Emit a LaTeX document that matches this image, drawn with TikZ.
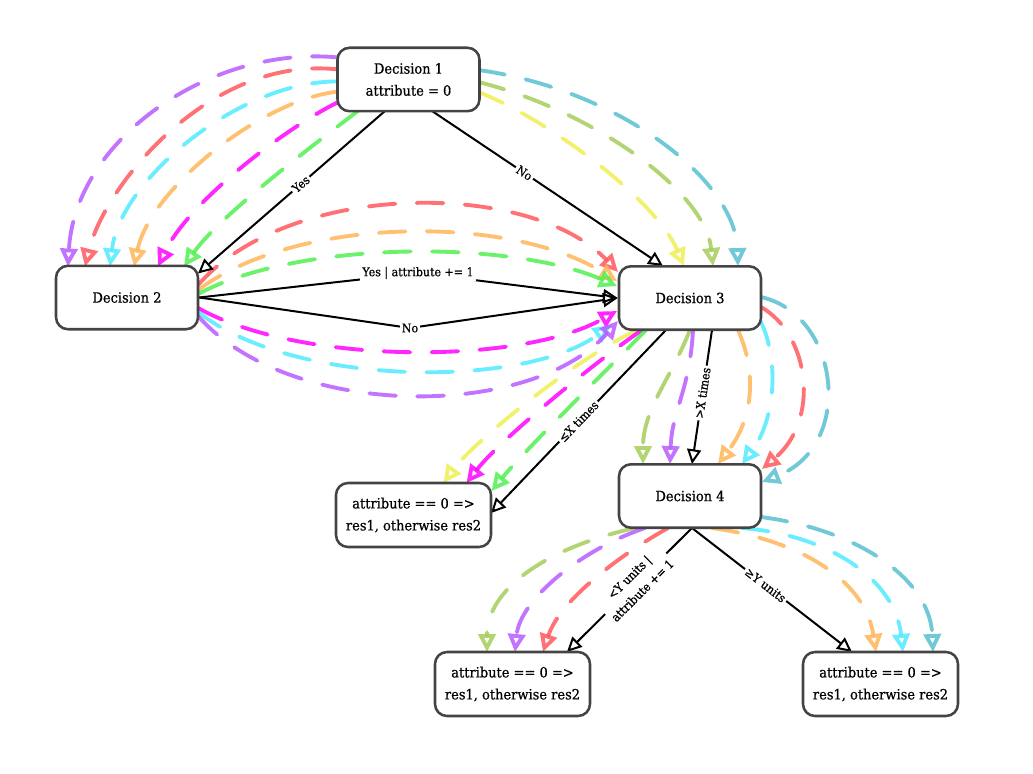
\documentclass[tikz,border=0pt]{standalone}
\usepackage{fontspec}
\setmainfont{DejaVu Serif}[FakeStretch=0.92,FakeBold=0.6]
\usetikzlibrary{arrows.meta}
\definecolor{boxgray}{HTML}{444444}
\definecolor{cPur}{RGB}{183,92,255}
\definecolor{cRed}{RGB}{255,88,92}
\definecolor{cCya}{RGB}{80,235,255}
\definecolor{cOra}{RGB}{255,182,88}
\definecolor{cMag}{RGB}{255,0,255}
\definecolor{cGre}{RGB}{80,240,80}
\definecolor{cYel}{RGB}{240,238,85}
\definecolor{cOli}{RGB}{165,205,90}
\definecolor{cTea}{RGB}{88,192,208}
\pgfdeclarelayer{edges}
\pgfsetlayers{edges,main}
\begin{document}
\begin{tikzpicture}[x=0.75pt,y=-0.75pt,
  box/.style={draw=boxgray, line width=1.9pt, rounded corners=9pt, fill=white,
    minimum width=106.5pt, minimum height=47.6pt, inner sep=0pt, align=center,
    font=\fontsize{10.6}{16.5}\selectfont},
  rbox/.style={box, minimum width=116.25pt, minimum height=48pt},
  flow/.style={line width=1.5pt, draw=black, -{Triangle[open,length=11pt,width=10.5pt]}},
  lbl/.style={fill=white, inner sep=1.5pt, font=\fontsize{9}{14}\selectfont, align=center},
  alt/.style={line width=2.9pt, dash pattern=on 20pt off 16pt, line cap=round,
    draw opacity=0.85, -{Triangle[open,length=13.5pt,width=13pt]}}]
\useasboundingbox (0,0) rectangle (1033,774);
\node[box] (d1) at (408.5,79.5) {Decision 1\\attribute = 0};
\node[box] (d2) at (127,297.5) {Decision 2};
\node[box] (d3) at (690,298) {Decision 3};
\node[box] (d4) at (690,496) {Decision 4};
\node[rbox] (r1) at (413.5,515) {attribute == 0 =>\\res1, otherwise res2};
\node[rbox] (r2) at (512.5,684) {attribute == 0 =>\\res1, otherwise res2};
\node[rbox] (r3) at (880.5,684) {attribute == 0 =>\\res1, otherwise res2};
\coordinate (k1) at (418,273);
\coordinate (k2) at (410,328);
\begin{pgfonlayer}{edges}
% D1 -> D2
\draw[alt,draw=cPur] ([shift={(-70,-22)}]d1.center) .. controls (210,45) and (75,140) .. ([shift={(-59,-31)}]d2.center);
\draw[alt,draw=cRed] ([shift={(-70,-10)}]d1.center) .. controls (210,55) and (105,185) .. ([shift={(-42,-31)}]d2.center);
\draw[alt,draw=cCya] ([shift={(-70,2)}]d1.center) .. controls (240,80) and (120,180) .. ([shift={(-17,-31)}]d2.center);
\draw[alt,draw=cOra] ([shift={(-70,12)}]d1.center) .. controls (260,100) and (150,190) .. ([shift={(7,-31)}]d2.center);
\draw[alt,draw=cMag] ([shift={(-69,22)}]d1.center) .. controls (290,125) and (190,200) .. ([shift={(31,-31)}]d2.center);
\draw[alt,draw=cGre] ([shift={(-50,31)}]d1.center) .. controls (320,140) and (220,215) .. ([shift={(57,-31)}]d2.center);
% D1 -> D3
\draw[alt,draw=cTea] ([shift={(70,-9.5)}]d1.center) .. controls (620,90) and (735,180) .. ([shift={(48,-32)}]d3.center);
\draw[alt,draw=cOli] ([shift={(70,2.5)}]d1.center) .. controls (590,110) and (705,190) .. ([shift={(23,-32)}]d3.center);
\draw[alt,draw=cYel] ([shift={(70,12.5)}]d1.center) .. controls (545,118) and (655,198) .. ([shift={(-6,-32)}]d3.center);
% D2 -> D3 upper
\draw[alt,draw=cRed] ([shift={(71,-12.5)}]d2.center) .. controls (290,180) and (530,180) .. ([shift={(-72,-26)}]d3.center);
\draw[alt,draw=cOra] ([shift={(71,-7.5)}]d2.center) .. controls (300,215) and (510,215) .. ([shift={(-73,-17)}]d3.center);
\draw[alt,draw=cGre] ([shift={(71,-3.5)}]d2.center) .. controls (300,240) and (510,240) .. ([shift={(-73,-12)}]d3.center);
% D2 -> D3 lower
\draw[alt,draw=cMag] ([shift={(71,10.5)}]d2.center) .. controls (300,365) and (520,365) .. ([shift={(-73,13)}]d3.center);
\draw[alt,draw=cCya] ([shift={(71,14.5)}]d2.center) .. controls (295,388) and (525,388) .. ([shift={(-79,27)}]d3.center);
\draw[alt,draw=cPur] ([shift={(71,18.5)}]d2.center) .. controls (290,420) and (530,420) .. ([shift={(-72,23)}]d3.center);
% D3 -> R1
\draw[alt,draw=cYel] ([shift={(-52,32)}]d3.center) .. controls (585,352) and (475,440) .. ([shift={(30,-32)}]r1.center);
\draw[alt,draw=cMag] ([shift={(-48,32)}]d3.center) .. controls (595,362) and (500,440) .. ([shift={(53,-32)}]r1.center);
\draw[alt,draw=cGre] ([shift={(-44,32)}]d3.center) .. controls (605,372) and (525,450) .. ([shift={(78,-24)}]r1.center);
% D3 -> D4
\draw[alt,draw=cOli] ([shift={(0,32)}]d3.center) .. controls (670,380) and (643,410) .. ([shift={(-47,-32)}]d4.center);
\draw[alt,draw=cPur] ([shift={(3,32)}]d3.center) .. controls (690,390) and (672,410) .. ([shift={(-20,-32)}]d4.center);
\draw[alt,draw=cOra] ([shift={(48,32)}]d3.center) .. controls (758,375) and (752,420) .. ([shift={(28,-32)}]d4.center);
\draw[alt,draw=cCya] ([shift={(70,22)}]d3.center) .. controls (780,360) and (775,420) .. ([shift={(52,-32)}]d4.center);
\draw[alt,draw=cRed] ([shift={(71,9)}]d3.center) .. controls (810,335) and (820,420) .. ([shift={(72,-27)}]d4.center);
\draw[alt,draw=cTea] ([shift={(71,-1)}]d3.center) .. controls (840,315) and (855,445) .. ([shift={(72,-14)}]d4.center);
% D4 -> R2
\draw[alt,draw=cOli] ([shift={(-55,32)}]d4.center) .. controls (545,548) and (487,590) .. ([shift={(-25.5,-32)}]r2.center);
\draw[alt,draw=cPur] ([shift={(-45,32)}]d4.center) .. controls (580,550) and (520,600) .. ([shift={(2.5,-32)}]r2.center);
\draw[alt,draw=cRed] ([shift={(-22,32)}]d4.center) .. controls (620,555) and (560,600) .. ([shift={(30.5,-32)}]r2.center);
% D4 -> R3
\draw[alt,draw=cOra] ([shift={(22,32)}]d4.center) .. controls (800,540) and (865,580) .. ([shift={(-4.5,-32)}]r3.center);
\draw[alt,draw=cCya] ([shift={(52,32)}]d4.center) .. controls (830,535) and (895,580) .. ([shift={(22.5,-32)}]r3.center);
\draw[alt,draw=cTea] ([shift={(71,21)}]d4.center) .. controls (860,530) and (930,580) .. ([shift={(52.5,-32)}]r3.center);
% black flow edges
\draw[flow] ([shift={(-23.5,31.5)}]d1.center) -- node[lbl,sloped,pos=0.45] {Yes} ([shift={(71,-24)}]d2.center);
\draw[flow] ([shift={(23.5,31.5)}]d1.center) -- node[lbl,sloped,pos=0.4] {No} ([shift={(-27,-32)}]d3.center);
\draw[flow] (d2.east) -- (k1) node[lbl] {Yes | attribute += 1} -- (d3.west);
\draw[flow] (d2.east) -- (k2) node[lbl] {No} -- (d3.west);
\draw[flow] ([shift={(-24,32)}]d3.center) -- node[lbl,sloped,pos=0.5] {≤X times} ([shift={(77.5,-2)}]r1.center);
\draw[flow] ([shift={(22,32)}]d3.center) -- node[lbl,sloped,pos=0.47] {>X times} ([shift={(2,-32)}]d4.center);
\draw[flow] ([shift={(2,32)}]d4.center) -- node[lbl,sloped,pos=0.45] {<Y units |\\attribute += 1} ([shift={(54.5,-32)}]r2.center);
\draw[flow] ([shift={(2,32)}]d4.center) -- node[lbl,sloped,pos=0.46] {≥Y units} ([shift={(-28.5,-32)}]r3.center);
\end{pgfonlayer}
\end{tikzpicture}
\end{document}
